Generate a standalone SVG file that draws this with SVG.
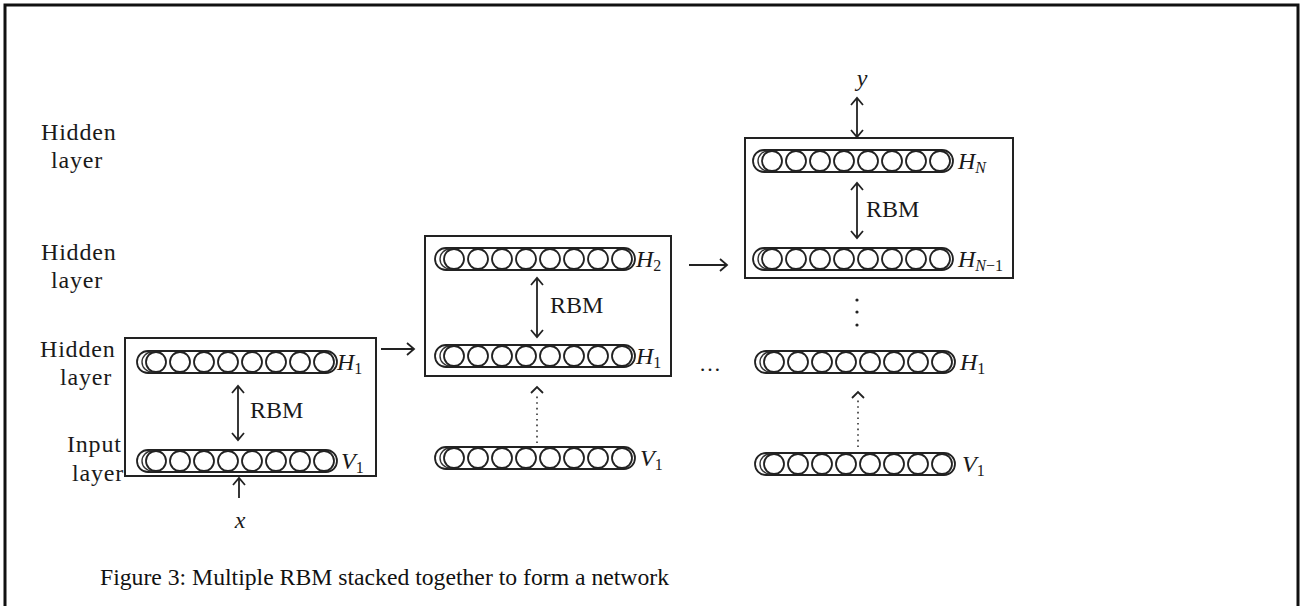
<svg xmlns="http://www.w3.org/2000/svg" xmlns:xlink="http://www.w3.org/1999/xlink" width="1301" height="606" viewBox="0 0 1301 606">
<style>
  .t { font-family: "Liberation Serif", "Times New Roman", serif; fill: #1a1a1a; }
  .lbl { font-size: 24px; letter-spacing: 0.8px; }
  .rbm { font-size: 24px; }
  .var { font-size: 24px; font-style: italic; }
  .sub { font-size: 16px; }
  .cap { font-size: 23.7px; fill: #111; }
  .box { fill: none; stroke: #222; stroke-width: 2; }
  .ln { fill: none; stroke: #222; stroke-width: 1.8; }
  .dot { fill: none; stroke: #333; stroke-width: 1.6; stroke-dasharray: 1.6 4; }
  .pill { fill: #fff; stroke: #222; stroke-width: 1.8; }
  .cir { fill: #fff; stroke: #222; stroke-width: 1.8; }
  .cirb { fill: none; stroke: #333; stroke-width: 1.4; }
</style>
<defs>
  <marker id="chev" markerWidth="16" markerHeight="16" refX="8" refY="8" orient="auto-start-reverse" markerUnits="userSpaceOnUse">
    <path d="M1,2 L8,8 L1,14" fill="none" stroke="#222" stroke-width="1.8"/>
  </marker>
  <g id="row">
    <rect class="pill" x="0" y="-11" width="200" height="22" rx="11"/>
    <circle class="cirb" cx="15" cy="0" r="10"/>
    <circle class="cir" cx="19" cy="0" r="10"/>
    <circle class="cir" cx="43" cy="0" r="10"/>
    <circle class="cir" cx="67" cy="0" r="10"/>
    <circle class="cir" cx="91" cy="0" r="10"/>
    <circle class="cir" cx="115" cy="0" r="10"/>
    <circle class="cir" cx="139" cy="0" r="10"/>
    <circle class="cir" cx="163" cy="0" r="10"/>
    <circle class="cir" cx="187" cy="0" r="10"/>
  </g>
</defs>

<rect x="0" y="0" width="1301" height="606" fill="#fff"/>
<path d="M5,606 V5 H1298 V606" fill="none" stroke="#111" stroke-width="3"/>

<g id="side-labels">
  <text class="t lbl" x="41" y="140">Hidden</text>
  <text class="t lbl" x="51" y="168">layer</text>
  <text class="t lbl" x="41" y="260">Hidden</text>
  <text class="t lbl" x="51" y="288">layer</text>
  <text class="t lbl" x="40" y="357">Hidden</text>
  <text class="t lbl" x="60" y="385">layer</text>
  <text class="t lbl" x="67" y="452">Input</text>
  <text class="t lbl" x="72" y="481">layer</text>
</g>

<g id="rbm1">
  <rect class="box" x="125" y="338" width="251" height="138"/>
  <use xlink:href="#row" x="137" y="362"/>
  <text class="t var" x="337" y="370">H<tspan class="sub" font-style="normal" dy="4">1</tspan></text>
  <use xlink:href="#row" x="137" y="461"/>
  <text class="t var" x="341" y="469">V<tspan class="sub" font-style="normal" dy="4">1</tspan></text>
  <text class="t rbm" x="250" y="418">RBM</text>
</g>

<g id="rbm2">
  <rect class="box" x="425" y="236" width="246" height="140"/>
  <use xlink:href="#row" x="435" y="259"/>
  <text class="t var" x="636" y="267">H<tspan class="sub" font-style="normal" dy="4">2</tspan></text>
  <use xlink:href="#row" x="435" y="356"/>
  <text class="t var" x="636" y="364">H<tspan class="sub" font-style="normal" dy="4">1</tspan></text>
  <text class="t rbm" x="550" y="313">RBM</text>
</g>

<g id="v1-mid">
  <use xlink:href="#row" x="435" y="458"/>
  <text class="t var" x="640" y="466">V<tspan class="sub" font-style="normal" dy="4">1</tspan></text>
</g>

<g id="rbm3">
  <rect class="box" x="745" y="138" width="268" height="140"/>
  <use xlink:href="#row" x="753" y="161"/>
  <text class="t var" x="958" y="169">H<tspan class="sub" dy="4">N</tspan></text>
  <use xlink:href="#row" x="753" y="259"/>
  <text class="t var" x="958" y="267">H<tspan class="sub" dy="4">N<tspan font-style="normal">−1</tspan></tspan></text>
  <text class="t rbm" x="866" y="217">RBM</text>
</g>

<g id="h1-right">
  <use xlink:href="#row" x="755" y="362"/>
  <text class="t var" x="960" y="370">H<tspan class="sub" font-style="normal" dy="4">1</tspan></text>
</g>

<g id="v1-right">
  <use xlink:href="#row" x="755" y="464"/>
  <text class="t var" x="962" y="472">V<tspan class="sub" font-style="normal" dy="4">1</tspan></text>
</g>

<g id="io-labels">
  <text class="t var" x="240" y="528" text-anchor="middle">x</text>
  <text class="t var" x="862" y="86" text-anchor="middle">y</text>
  <text class="t" x="710" y="371" font-size="22" text-anchor="middle">…</text>
</g>

<g id="connectors">
  <line class="ln" x1="238" y1="386" x2="238" y2="440" marker-start="url(#chev)" marker-end="url(#chev)"/>
  <line class="ln" x1="537" y1="278" x2="537" y2="337" marker-start="url(#chev)" marker-end="url(#chev)"/>
  <line class="ln" x1="857" y1="183" x2="857" y2="238" marker-start="url(#chev)" marker-end="url(#chev)"/>
  <line class="ln" x1="857" y1="98" x2="857" y2="137" marker-start="url(#chev)" marker-end="url(#chev)"/>
  <line class="ln" x1="239" y1="498" x2="239" y2="478" marker-end="url(#chev)"/>
  <line class="ln" x1="381" y1="349" x2="414" y2="349" marker-end="url(#chev)"/>
  <line class="ln" x1="689" y1="265" x2="727" y2="265" marker-end="url(#chev)"/>
  <line class="dot" x1="537" y1="443" x2="537" y2="393"/>
  <path class="ln" d="M531,393 L537,387 L543,393"/>
  <line class="dot" x1="858" y1="447" x2="858" y2="398"/>
  <path class="ln" d="M852,398 L858,392 L864,398"/>
  <circle cx="857" cy="300" r="1.6" fill="#222"/>
  <circle cx="857" cy="312" r="1.6" fill="#222"/>
  <circle cx="857" cy="325" r="1.6" fill="#222"/>
</g>

<text class="t cap" x="100" y="585">Figure 3: Multiple RBM stacked together to form a network</text>
</svg>
